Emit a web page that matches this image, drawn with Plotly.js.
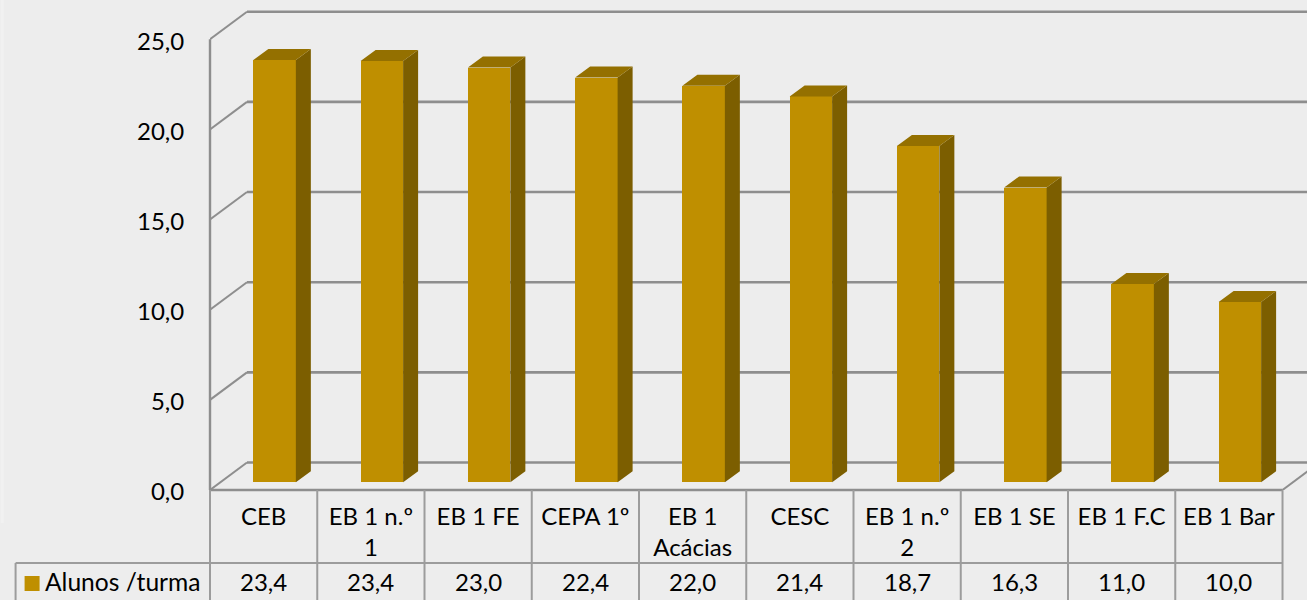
<!DOCTYPE html>
<html>
<head>
<meta charset="utf-8">
<script src="https://cdn.plot.ly/plotly-3.0.1.min.js"></script>
<style>html,body{margin:0;padding:0;background:#EDEDED}</style>
</head>
<body>
<div id="chart" style="width:1307px;height:600px"></div>
<script>
const categories = ["CEB","EB 1 n.º<br>1","EB 1 FE","CEPA 1º","EB 1<br>Acácias","CESC","EB 1 n.º<br>2","EB 1 SE","EB 1 F.C","EB 1 Bar"];
const tableValues = [23.4,23.4,23.0,22.4,22.0,21.4,18.7,16.3,11.0,10.0];
const barValues = [23.42,23.37,23.0,22.45,22.0,21.4,18.65,16.35,11.0,10.0];
const seriesName = "Alunos /turma";
const yTicks = [0,5,10,15,20,25];

const GRID = "#8E8E8E", TABLE = "#9C9C9C", BG = "#EDEDED";
const FRONT = "#BF8F00", SIDE = "#7C5E00", TOP = "#947000";
const FONT = "Lato, Carlito, Calibri, sans-serif", FS = 24;

const W = 1307, H = 600, L = 209.5, B = 490;
const unitX = 107.3, unitY = 18.03;
const xMin = -0.5, xMax = xMin + (W - L) / unitX;
const yMax = B / unitY;
const wallDX = 37 / unitX, wallDY = 27.5 / unitY;      // depth of the floor
const barW = 42.5 / unitX;
const barOffX = 11 / unitX, barOffY = 7.7 / unitY;     // bar front plane in the depth
const barDX = 15 / unitX, barDY = 11 / unitY;          // bar depth
const px = p => (p - L) / (W - L);                     // pixel x -> paper
const py = p => (B - p) / B;                           // pixel y -> paper
const idx = categories.map((_, i) => i);

const side = {x: [], y: []}, top_ = {x: [], y: []};
barValues.forEach((v, i) => {
  const l = i + barOffX - barW / 2, r = i + barOffX + barW / 2, b = barOffY, t = barOffY + v;
  side.x.push(r, r + barDX, r + barDX, r, r, null);
  side.y.push(b, b + barDY, t + barDY, t, b, null);
  top_.x.push(l, l + barDX, r + barDX, r, l, null);
  top_.y.push(t, t + barDY, t + barDY, t, t, null);
});

const traces = [
  {type: "bar", name: seriesName, x: idx.map(i => i + barOffX), y: barValues, base: barValues.map(() => barOffY),
   width: barW, marker: {color: FRONT, line: {width: 0}}, hoverinfo: "skip"},
  {type: "scatter", mode: "lines", x: side.x, y: side.y, fill: "toself", fillcolor: SIDE, line: {width: 0}, hoverinfo: "skip"},
  {type: "scatter", mode: "lines", x: top_.x, y: top_.y, fill: "toself", fillcolor: TOP, line: {width: 0}, hoverinfo: "skip"}
];

const shapes = [];
shapes.push({type: "rect", layer: "below", xref: "paper", yref: "paper", x0: px(0), x1: px(3), y0: py(523), y1: py(0),
  fillcolor: "#F1F1F1", line: {width: 0}});
const line = (o, color, width) => shapes.push(Object.assign({type: "line", layer: "below", line: {color, width}}, o));
yTicks.forEach(t => {
  line({xref: "x", yref: "y", x0: xMin + wallDX, x1: xMax, y0: t + wallDY, y1: t + wallDY}, GRID, 2.6);
  line({xref: "x", yref: "y", x0: xMin, x1: xMin + wallDX, y0: t, y1: t + wallDY}, GRID, 2);
});
line({xref: "x", yref: "y", x0: 9.5, x1: 9.5 + wallDX, y0: 0, y1: wallDY}, GRID, 2);
line({xref: "paper", yref: "y", x0: 0, x1: 0, y0: 0, y1: 25}, GRID, 2.4);
line({xref: "x", yref: "paper", x0: xMin, x1: 9.5, y0: 0, y1: 0}, GRID, 2.6);
// data table grid
for (let k = 0; k <= 10; k++) {
  line({xref: "paper", yref: "paper", x0: px(L + k * unitX), x1: px(L + k * unitX), y0: py(490), y1: py(600)}, TABLE, 2);
}
line({xref: "paper", yref: "paper", x0: px(15), x1: px(L + 10 * unitX), y0: py(563), y1: py(563)}, TABLE, 2);
line({xref: "paper", yref: "paper", x0: px(15), x1: px(15), y0: py(563), y1: py(600)}, TABLE, 2);
shapes.push({type: "rect", xref: "paper", yref: "paper", x0: px(24), x1: px(39), y0: py(576), y1: py(591),
  fillcolor: FRONT, line: {width: 0}});

const annotations = tableValues.map((v, i) => ({
  xref: "x", yref: "paper", x: i, y: py(581), xanchor: "center", yanchor: "middle", showarrow: false,
  text: v.toFixed(1).replace(".", ","), font: {family: FONT, size: FS, color: "#000"}
}));
annotations.push({xref: "paper", yref: "paper", x: px(42), y: py(581), xanchor: "left", yanchor: "middle", showarrow: false,
  text: seriesName, font: {family: FONT, size: 24.6, color: "#000"}});

const layout = {
  width: W, height: H, showlegend: false, paper_bgcolor: BG, plot_bgcolor: "rgba(0,0,0,0)",
  margin: {l: L, r: 0, t: 0, b: H - B, pad: 0},
  font: {family: FONT, size: FS, color: "#000"},
  xaxis: {range: [xMin, xMax], tickmode: "array", tickvals: idx, ticktext: categories, showgrid: false, zeroline: false,
          showline: false, ticks: "outside", ticklen: 5, tickcolor: "rgba(0,0,0,0)", tickangle: 0, automargin: false},
  yaxis: {range: [0, yMax], tickmode: "array", tickvals: yTicks, ticktext: yTicks.map(t => t.toFixed(1).replace(".", ",")),
          showgrid: false, zeroline: false, showline: false, ticks: "outside", ticklen: 20, tickcolor: "rgba(0,0,0,0)",
          ticklabelshift: 2, automargin: false},
  shapes, annotations, bargap: 0
};
Plotly.newPlot("chart", traces, layout, {displayModeBar: false, staticPlot: true});
</script>
</body>
</html>
